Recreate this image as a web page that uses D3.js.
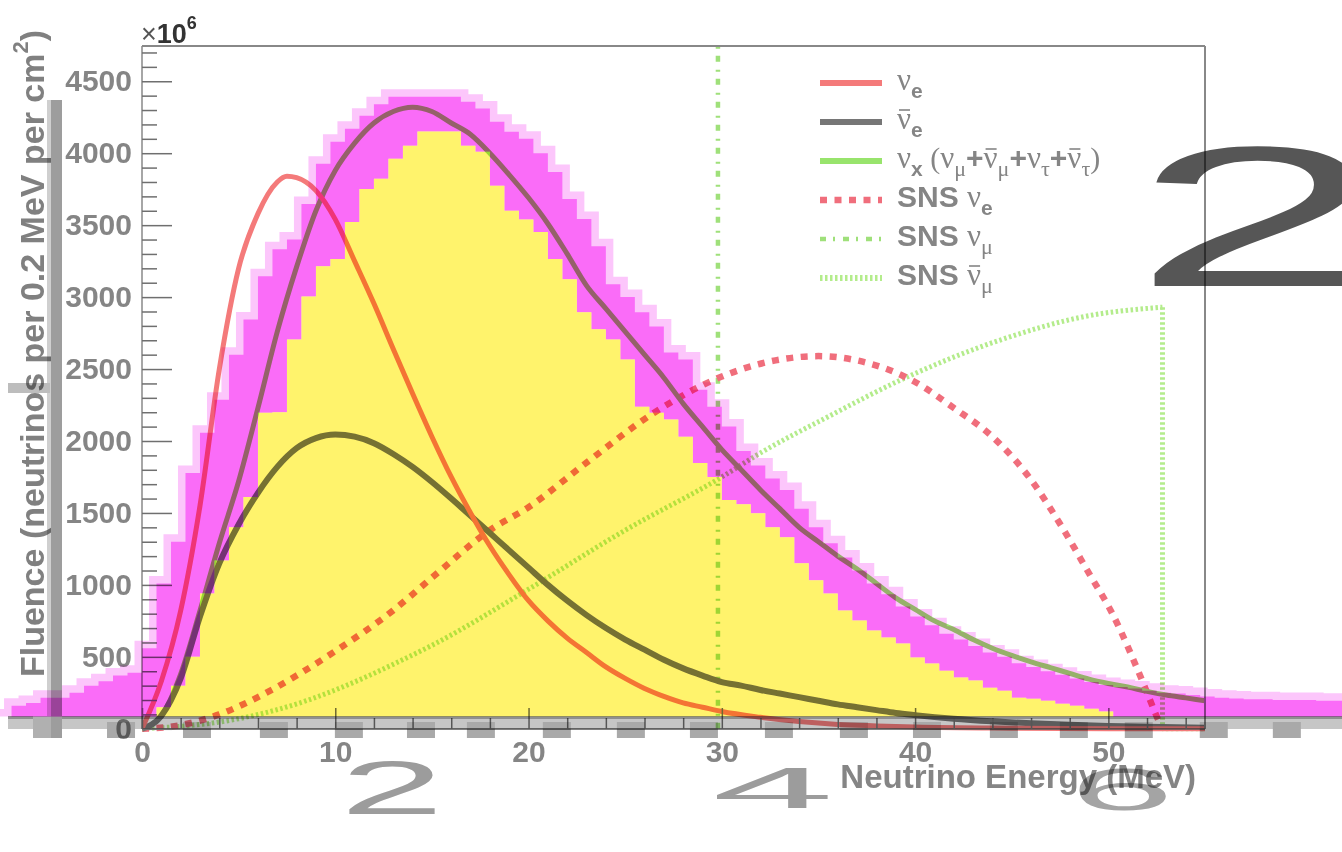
<!DOCTYPE html>
<html><head><meta charset="utf-8">
<script src="https://cdn.jsdelivr.net/npm/d3@7"></script>
<style>body{margin:0;background:#fff}svg{display:block}</style>
</head><body>
<svg id="c" width="1342" height="852"></svg>
<script>
// ---------------- data (MeV, neutrinos per 0.2 MeV per cm^2, x10^6) ----------------
const nuE_E = [0,1,2,3,4,5,6,7,7.5,8,9,10,11,12,13,14,15,16,17,18,19,20,21,22,23,24,25,26,27,28,29,30,32,34,36,38,40,45,50,55];
const nuE_V = [0,330,820,1550,2500,3200,3580,3800,3840,3830,3740,3540,3250,2955,2640,2330,2030,1750,1500,1270,1070,890,750,630,530,430,350,280,225,180,150,120,80,50,30,20,12,4,1,0];

const nuEbar_E = [0,1,2,3,4,5,6,7,8,9,10,11,12,13,14,15,16,17,18,19,20,21,22,23,24,25,26,27,28,29,30,31,32,33,34,35,36,37,38,39,40,42,44,46,48,50,52,55];
const nuEbar_V = [0,90,350,780,1150,1420,1640,1820,1950,2020,2045,2030,1985,1910,1820,1715,1600,1480,1360,1240,1120,1000,890,790,700,620,550,480,420,370,325,300,270,245,220,195,170,150,130,110,95,70,52,38,28,20,14,8];

const nuX_E = [0,1,2,3,4,5,6,7,8,9,10,11,12,13,14,15,16,17,18,19,20,21,22,23,24,25,26,27,28,29,30,31,32,33,34,35,36,37,38,39,40,41,42,43,44,45,46,47,48,49,50,51,52,53,54,55];
const nuX_V = [0,90,380,820,1290,1720,2230,2760,3210,3600,3880,4070,4210,4290,4320,4290,4210,4130,4000,3850,3690,3510,3300,3080,2920,2760,2600,2440,2260,2100,1940,1800,1660,1530,1400,1300,1200,1110,1010,910,830,750,690,620,560,510,465,425,385,345,315,290,260,235,215,195];

const snsNuE_E = [0,2,4,6,8,10,13,15,18,20,23,26.5,30,33,35,37,40,42,44,46,47.6,49,50.2,51.9,52.6,52.8];
const snsNuE_V = [0,25,100,220,370,540,823,1050,1380,1540,1850,2197,2448,2566,2590,2560,2410,2230,2030,1730,1402,1080,802,286,56,0];

const snsNuMuBar_E = [0,5,8.5,10,13.4,15,20,25,30,32,35.5,39.3,44.5,48.8,52.8];
const snsNuMuBar_V = [0,70,195,270,474,580,970,1380,1750,1917,2169,2427,2706,2866,2930];
const snsNuMuBarDrop_E = [52.8,52.8,55];
const snsNuMuBarDrop_V = [2930,0,0];

const snsNuMu_E = [29.8,29.8];          // monoenergetic line (off scale)
const snsNuMu_V = [0,100000];

// overlaid histogram (bins of 0.75 MeV starting at -7.5 MeV)
const histStartE = -7.5, histBinW = 0.75, histBase = 85;
const histOuter = [0,160,180,216,216,250,300,330,370,390,
  560,1010,1300,1778,2057,2287,2600,2845,3145,3333,
  3400,3647,3926,4080,4170,4260,4340,4393,4393,4393,
  4393,4393,4358,4310,4219,4149,4100,4000,3870,3682,
  3543,3354,3089,3000,2894,2796,2615,2566,2357,2238,
  2100,1930,1830,1740,1660,1530,1400,1290,1190,1100,
  1010,935,850,780,720,660,620,575,530,500,
  455,430,400,375,350,325,305,290,280,265,
  250,245,235,225,215,210,205,205,200,200,200,195,195];
const histInner = [0,0,0,0,0,0,0,0,0,0,
  0,150,300,500,940,1170,1400,1611,2197,2200,
  2706,3005,3215,3264,3522,3752,3822,3961,4051,4150,
  4150,4150,4051,4010,3773,3600,3540,3452,3264,3124,
  2894,2776,2706,2566,2238,2197,2150,2029,1848,1750,
  1590,1560,1498,1400,1332,1150,1032,941,822,752,
  683,634,593,495,453,404,356,335,286,265,
  216,209,195,174,160,139,120,0,0,0,
  0,0,0,0,0,0,0,0,0,0,0,0,0];
// pixelated tick blocks of the overlaid picture (MeV)
const overlayTickE = [-1.81,2.12,6.10,9.98,13.71,16.81,20.74,24.57,28.35,32.23,36.11,39.89,43.87,47.49,50.85,54.73,58.51];

const xTickValues = [0,10,20,30,40,50];
const yTickValues = [0,500,1000,1500,2000,2500,3000,3500,4000,4500];

const legendLabels = [
  [["g","ν"],["s","e"]],
  [["gb","ν"],["s","e"]],
  [["g","ν"],["s","x"],["gp"," ("],["g","ν"],["sg","μ"],["t","+"],["gb","ν"],["sg","μ"],["t","+"],["g","ν"],["sg","τ"],["t","+"],["gb","ν"],["sg","τ"],["gp",")"]],
  [["t","SNS "],["g","ν"],["s","e"]],
  [["t","SNS "],["g","ν"],["sg","μ"]],
  [["t","SNS "],["gb","ν"],["sg","μ"]]
];

// ---------------- drawing ----------------
const svg = d3.select("#c");
const FONT = "'Liberation Sans', Arial, Helvetica, sans-serif";
const SERIF = "'Liberation Serif', 'DejaVu Serif', serif";
const GRAY = "#858585";
const x = d3.scaleLinear().domain([0,55]).range([142,1205]);
const y = d3.scaleLinear().domain([0,4745]).range([728.8,46]);

svg.append("rect").attr("width",1342).attr("height",852).attr("fill","#fff");
const defs = svg.append("defs");
defs.append("clipPath").attr("id","pc")
  .append("rect").attr("x",142).attr("y",46).attr("width",1063).attr("height",687);
defs.append("clipPath").attr("id","hc")
  .append("rect").attr("x",0).attr("y",0).attr("width",1342).attr("height",y(histBase));

const zip = (E,V) => E.map((e,i)=>[e,V[i]]);
const smooth = d3.line().x(d=>x(d[0])).y(d=>y(d[1])).curve(d3.curveMonotoneX);
const straight = d3.line().x(d=>x(d[0])).y(d=>y(d[1]));

const styles = {
  nuE:   {stroke:"#f47a7a", w:5, dash:null},
  nuEb:  {stroke:"#767676", w:6, dash:null},
  nuX:   {stroke:"#98e46c", w:5, dash:null},
  snsE:  {stroke:"#f06e7c", w:6.5, dash:"7,7.5"},
  snsMu: {stroke:"#9fe07a", w:4.5, dash:"6,7,2,8"},
  snsMuB:{stroke:"#b4ec8c", w:5, dash:"2.5,2.5"}
};

const plot = svg.append("g").attr("clip-path","url(#pc)");
function curve(data, st, gen){
  plot.append("path").attr("d",(gen||smooth)(data)).attr("fill","none")
    .attr("stroke",st.stroke).attr("stroke-width",st.w)
    .attr("stroke-dasharray",st.dash).attr("stroke-linejoin","round");
}
curve(zip(snsNuMuBar_E,snsNuMuBar_V), styles.snsMuB);
curve(zip(snsNuMuBarDrop_E,snsNuMuBarDrop_V), styles.snsMuB, straight);
curve(zip(snsNuMu_E,snsNuMu_V), styles.snsMu, straight);
curve(zip(snsNuE_E,snsNuE_V), styles.snsE);
curve(zip(nuX_E,nuX_V), styles.nuX);
curve(zip(nuEbar_E,nuEbar_V), styles.nuEb);
curve(zip(nuE_E,nuE_V), styles.nuE);

// frame
const fr = svg.append("g").attr("fill","none").attr("stroke","#888");
fr.append("line").attr("x1",142).attr("x2",1205).attr("y1",46).attr("y2",46).attr("stroke-width",2);
fr.append("line").attr("x1",1205).attr("x2",1205).attr("y1",46).attr("y2",729).attr("stroke-width",2);
fr.append("line").attr("x1",142).attr("x2",142).attr("y1",46).attr("y2",729).attr("stroke-width",1.5);
fr.append("line").attr("x1",142).attr("x2",1205).attr("y1",729).attr("y2",729).attr("stroke-width",1.5).attr("stroke","#555");

// y axis
const gy = svg.append("g").attr("transform","translate(142,0)");
gy.call(d3.axisLeft(y).tickValues(yTickValues).tickSizeInner(-30).tickSizeOuter(0).tickPadding(10).tickFormat(d3.format("d")));
const gym = svg.append("g").attr("transform","translate(142,0)");
gym.call(d3.axisLeft(y).tickValues(d3.range(100,4745,100).filter(v=>v%500!==0)).tickSizeInner(-15).tickSizeOuter(0).tickFormat(""));
// x axis
const gx = svg.append("g").attr("transform","translate(0,729)");
gx.call(d3.axisBottom(x).tickValues(xTickValues).tickSizeInner(-21).tickSizeOuter(0).tickPadding(12).tickFormat(d3.format("d")));
const gxm = svg.append("g").attr("transform","translate(0,729)");
gxm.call(d3.axisBottom(x).tickValues(d3.range(2,55,2).filter(v=>v%10!==0)).tickSizeInner(-11).tickSizeOuter(0).tickFormat(""));
[gy,gym,gx,gxm].forEach(g=>{
  g.select(".domain").remove();
  g.selectAll("line").attr("stroke","#6f6f6f").attr("stroke-width",1.5);
  g.selectAll("text").attr("font-family",FONT).attr("font-size",30).attr("font-weight","bold").attr("fill",GRAY);
});

// x10^6
const ex = svg.append("text").attr("x",141).attr("y",43).attr("font-family",FONT).attr("fill","#333");
ex.append("tspan").attr("font-size",27).attr("fill","#555").text("×");
ex.append("tspan").attr("font-size",27).attr("font-weight","bold").text("10");
ex.append("tspan").attr("font-size",18).attr("font-weight","bold").attr("y",29).text("6");

// axis titles
const yt = svg.append("text").attr("transform","translate(44,353.5) rotate(-90)")
  .attr("text-anchor","middle").attr("font-family",FONT).attr("font-size",34)
  .attr("font-weight","bold").attr("fill","#808080");
yt.append("tspan").text("Fluence (neutrinos per 0.2 MeV per cm");
yt.append("tspan").attr("font-size",22).attr("dy",-16).text("2");
yt.append("tspan").attr("dy",16).text(")");

svg.append("text").attr("x",1196).attr("y",788).attr("text-anchor","end")
  .attr("font-family",FONT).attr("font-size",33).attr("font-weight","bold").attr("fill",GRAY)
  .text("Neutrino Energy (MeV)");

// legend
const legendStyles = [styles.nuE, styles.nuEb, styles.nuX, styles.snsE, styles.snsMu, styles.snsMuB];
legendLabels.forEach((parts,i)=>{
  const base = 90 + i*39;
  const st = legendStyles[i];
  svg.append("line").attr("x1",820).attr("x2",882).attr("y1",base-7).attr("y2",base-7)
    .attr("stroke",st.stroke).attr("stroke-width",st.w===5?6:st.w).attr("stroke-dasharray",st.dash);
  const t = svg.append("text").attr("x",897).attr("y",base).attr("fill",GRAY);
  const barIdx = [];
  let pos = 0;
  parts.forEach(([k,s])=>{
    const ts = t.append("tspan");
    if(k==="g"||k==="gb"){ ts.attr("font-family",SERIF).attr("font-size",31).attr("y",base).text(s); if(k==="gb") barIdx.push(pos); }
    else if(k==="gp"){ ts.attr("font-family",SERIF).attr("font-size",30).attr("y",base).text(s); }
    else if(k==="s"){ ts.attr("font-family",FONT).attr("font-weight","bold").attr("font-size",21).attr("y",base+8).text(s); }
    else if(k==="sg"){ ts.attr("font-family",SERIF).attr("font-size",22).attr("y",base+8).text(s); }
    else { ts.attr("font-family",FONT).attr("font-weight","bold").attr("font-size",30).attr("y",base).text(s); }
    pos += s.length;
  });
  barIdx.forEach(ci=>{
    const ext = t.node().getExtentOfChar(ci);
    svg.append("line").attr("x1",ext.x+2).attr("x2",ext.x+ext.width-1)
      .attr("y1",base-19).attr("y2",base-19).attr("stroke",GRAY).attr("stroke-width",1.6);
  });
});

// ---------------- overlaid (multiplied) picture ----------------
const ov = svg.append("g").style("mix-blend-mode","multiply");
const bins = histOuter.map((v,i)=>({e:histStartE+i*histBinW, o:Math.max(v,histBase), n:Math.max(histInner[i],histBase)}));
bins.push({e:histStartE+histOuter.length*histBinW, o:histBase, n:histBase});
const outerArea = d3.area().x(d=>x(d.e)).y0(d=>y(d.n)).y1(d=>y(d.o)).curve(d3.curveStepAfter)(bins);
ov.append("path").attr("clip-path","url(#hc)").attr("fill","#fcc6fb").attr("stroke","#fcc6fb")
  .attr("stroke-width",15).attr("stroke-linejoin","miter").attr("d", outerArea);
ov.append("path").attr("fill","#fa6cf8").attr("d", outerArea);
ov.append("path").attr("fill","#fff36c")
  .attr("d", d3.area().x(d=>x(d.e)).y0(y(histBase)).y1(d=>y(d.n)).curve(d3.curveStepAfter)(bins));

const ov2 = svg.append("g").style("mix-blend-mode","multiply");
ov2.append("rect").attr("x",8).attr("y",716).attr("width",1334).attr("height",13).attr("fill","#c6c6c6");
ov2.append("rect").attr("x",8).attr("y",716).attr("width",1334).attr("height",3).attr("fill","#8f8f8f");
ov2.selectAll("rect.tb").data(overlayTickE).join("rect").attr("class","tb")
  .attr("x",d=>x(d)).attr("y",722).attr("width",28).attr("height",16).attr("fill","#a9a9a9");
ov2.append("rect").attr("x",47).attr("y",100).attr("width",4).attr("height",638).attr("fill","#cfcfcf");
ov2.append("rect").attr("x",51).attr("y",100).attr("width",11).attr("height",638).attr("fill","#9d9d9d");
ov2.append("rect").attr("x",8).attr("y",383).attr("width",42).attr("height",10).attr("fill","#bdbdbd");
ov2.append("rect").attr("x",33).attr("y",716).attr("width",18).attr("height",22).attr("fill","#b0b0b0");

const dg = ov2.append("g").attr("font-family",FONT);
dg.append("text").attr("x",340).attr("y",814).attr("font-size",76).attr("textLength",104)
  .attr("lengthAdjust","spacingAndGlyphs").attr("fill","#9c9c9c").text("2");
dg.append("text").attr("x",712).attr("y",808).attr("font-size",58).attr("textLength",122)
  .attr("lengthAdjust","spacingAndGlyphs").attr("fill","#9c9c9c").text("4");
dg.append("text").attr("x",1070).attr("y",810).attr("font-size",60).attr("textLength",104)
  .attr("lengthAdjust","spacingAndGlyphs").attr("fill","#a4a4a4").text("6");
dg.append("text").attr("x",1132).attr("y",286).attr("font-size",200).attr("textLength",250)
  .attr("lengthAdjust","spacingAndGlyphs").attr("fill","#565656").text("2");
</script>
</body></html>
